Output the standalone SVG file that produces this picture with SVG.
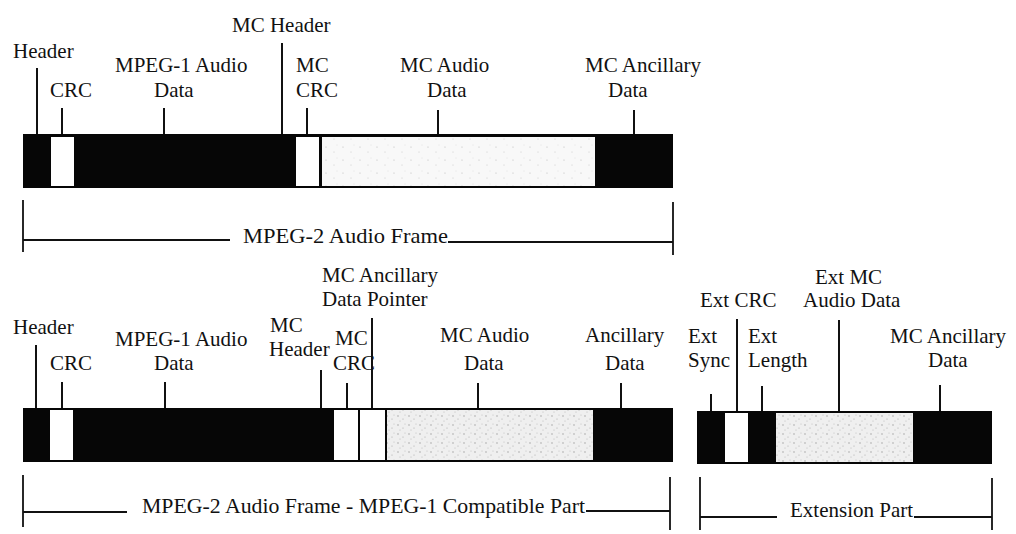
<svg xmlns="http://www.w3.org/2000/svg" width="1016" height="534" viewBox="0 0 1016 534">
<style>
  text { font-family: "Liberation Serif", "Times New Roman", serif; font-size: 21px; fill: #111; }
  .bar { fill: #060606; }
  .white { fill: #ffffff; }
  .lite { fill: url(#speckLight); }
  .dense { fill: url(#speckDense); }
  .lead { stroke: #111; stroke-width: 2; fill: none; }
  .brk { stroke: #111; stroke-width: 1.8; fill: none; }
</style>
<defs>
  <pattern id="speckLight" width="17" height="13" patternUnits="userSpaceOnUse">
    <rect width="17" height="13" fill="#f8f8f8"/>
    <circle cx="3" cy="4" r="0.6" fill="#bbb"/>
    <circle cx="11" cy="9" r="0.5" fill="#c4c4c4"/>
    <circle cx="14" cy="2" r="0.4" fill="#ccc"/>
  </pattern>
  <pattern id="speckDense" width="11" height="9" patternUnits="userSpaceOnUse">
    <rect width="11" height="9" fill="#efefef"/>
    <circle cx="2" cy="2" r="0.7" fill="#999"/>
    <circle cx="7" cy="5" r="0.6" fill="#aaa"/>
    <circle cx="4" cy="7" r="0.5" fill="#b0b0b0"/>
    <circle cx="9" cy="1" r="0.5" fill="#b5b5b5"/>
  </pattern>
</defs>

<!-- ===== Top frame ===== -->
<g id="top-frame">
  <rect class="bar" x="23" y="134" width="650" height="54"/>
</g>
<g id="top-header"><text x="13" y="58">Header</text></g>
<g id="top-crc">
  <rect class="white" x="51" y="137" width="23" height="49"/>
  <text x="50" y="97">CRC</text>
</g>
<g id="top-mpeg1-data">
  <text x="115" y="72">MPEG-1 Audio</text>
  <text x="154" y="97">Data</text>
</g>
<g id="top-mc-header"><text x="232" y="32">MC Header</text></g>
<g id="top-mc-crc">
  <rect class="white" x="296" y="137" width="23" height="49"/>
  <text x="296" y="72">MC</text>
  <text x="296" y="97">CRC</text>
</g>
<g id="top-mc-audio">
  <rect class="lite" x="322" y="137" width="273" height="49"/>
  <text x="400" y="72">MC Audio</text>
  <text x="427" y="97">Data</text>
</g>
<g id="top-mc-ancillary">
  <text x="585" y="72">MC Ancillary</text>
  <text x="608" y="97">Data</text>
</g>
<g id="top-span">
  <text x="243" y="243" textLength="205" lengthAdjust="spacingAndGlyphs">MPEG-2 Audio Frame</text>
</g>

<!-- ===== Bottom compatible part ===== -->
<g id="bot-frame">
  <rect class="bar" x="23" y="408" width="650" height="54"/>
</g>
<g id="bot-header"><text x="13" y="334">Header</text></g>
<g id="bot-crc">
  <rect class="white" x="50" y="410" width="23" height="50"/>
  <text x="50" y="370">CRC</text>
</g>
<g id="bot-mpeg1-data">
  <text x="115" y="346">MPEG-1 Audio</text>
  <text x="154" y="370">Data</text>
</g>
<g id="bot-mc-header">
  <text x="270" y="332">MC</text>
  <text x="269" y="356">Header</text>
</g>
<g id="bot-mc-crc">
  <rect class="white" x="334" y="410" width="24" height="50"/>
  <text x="335" y="345">MC</text>
  <text x="333" y="370">CRC</text>
</g>
<g id="bot-mc-anc-pointer">
  <rect class="white" x="360" y="410" width="25" height="50"/>
  <text x="322" y="282">MC Ancillary</text>
  <text x="322" y="306">Data Pointer</text>
</g>
<g id="bot-mc-audio">
  <rect class="dense" x="387" y="410" width="206" height="50"/>
  <text x="440" y="342">MC Audio</text>
  <text x="464" y="370">Data</text>
</g>
<g id="bot-ancillary">
  <text x="585" y="342">Ancillary</text>
  <text x="605" y="370">Data</text>
</g>
<g id="bot-span">
  <text x="142" y="513" textLength="443" lengthAdjust="spacingAndGlyphs">MPEG-2 Audio Frame - MPEG-1 Compatible Part</text>
</g>

<!-- ===== Extension part ===== -->
<g id="ext-frame">
  <rect class="bar" x="697" y="411" width="295" height="53"/>
</g>
<g id="ext-sync">
  <text x="688" y="343">Ext</text>
  <text x="688" y="367">Sync</text>
</g>
<g id="ext-crc">
  <rect class="white" x="725" y="413" width="23" height="49"/>
  <text x="700" y="307">Ext CRC</text>
</g>
<g id="ext-length">
  <text x="748" y="343">Ext</text>
  <text x="748" y="367">Length</text>
</g>
<g id="ext-mc-audio">
  <rect class="dense" x="776" y="413" width="137" height="49"/>
  <text x="815" y="284">Ext MC</text>
  <text x="803" y="307">Audio Data</text>
</g>
<g id="ext-mc-ancillary">
  <text x="890" y="343">MC Ancillary</text>
  <text x="928" y="367">Data</text>
</g>
<g id="ext-span">
  <text x="790" y="517">Extension Part</text>
</g>

<!-- ===== Connectors (leader lines and span brackets) ===== -->
<g id="connectors">
  <!-- top leaders -->
  <line class="lead" x1="37" y1="68" x2="37" y2="134"/>
  <line class="lead" x1="62" y1="108" x2="62" y2="134"/>
  <line class="lead" x1="164" y1="108" x2="164" y2="134"/>
  <line class="lead" x1="282" y1="43" x2="282" y2="134"/>
  <line class="lead" x1="307" y1="108" x2="307" y2="134"/>
  <line class="lead" x1="438" y1="110" x2="438" y2="134"/>
  <line class="lead" x1="634" y1="110" x2="634" y2="134"/>
  <!-- top bracket -->
  <line class="brk" x1="23" y1="200" x2="23" y2="252"/>
  <line class="brk" x1="23" y1="240" x2="230" y2="240"/>
  <line class="brk" x1="448" y1="242" x2="673" y2="242"/>
  <line class="brk" x1="673" y1="202" x2="673" y2="255"/>

  <!-- bottom leaders -->
  <line class="lead" x1="36" y1="345" x2="36" y2="408"/>
  <line class="lead" x1="62" y1="382" x2="62" y2="408"/>
  <line class="lead" x1="165" y1="382" x2="165" y2="408"/>
  <line class="lead" x1="321" y1="370" x2="321" y2="408"/>
  <line class="lead" x1="347" y1="383" x2="347" y2="408"/>
  <line class="lead" x1="372" y1="318" x2="372" y2="408"/>
  <line class="lead" x1="478" y1="383" x2="478" y2="408"/>
  <line class="lead" x1="621" y1="383" x2="621" y2="408"/>
  <!-- bottom bracket -->
  <line class="brk" x1="23" y1="475" x2="23" y2="527"/>
  <line class="brk" x1="23" y1="512" x2="127" y2="512"/>
  <line class="brk" x1="586" y1="511" x2="670" y2="511"/>
  <line class="brk" x1="670" y1="477" x2="670" y2="530"/>

  <!-- extension leaders -->
  <line class="lead" x1="711" y1="394" x2="711" y2="411"/>
  <line class="lead" x1="737" y1="319" x2="737" y2="411"/>
  <line class="lead" x1="762" y1="386" x2="762" y2="411"/>
  <line class="lead" x1="839" y1="320" x2="839" y2="411"/>
  <line class="lead" x1="940" y1="385" x2="940" y2="411"/>
  <!-- extension bracket -->
  <line class="brk" x1="700" y1="477" x2="700" y2="530"/>
  <line class="brk" x1="700" y1="517" x2="777" y2="517"/>
  <line class="brk" x1="914" y1="517" x2="992" y2="517"/>
  <line class="brk" x1="992" y1="478" x2="992" y2="530"/>
</g>
</svg>
